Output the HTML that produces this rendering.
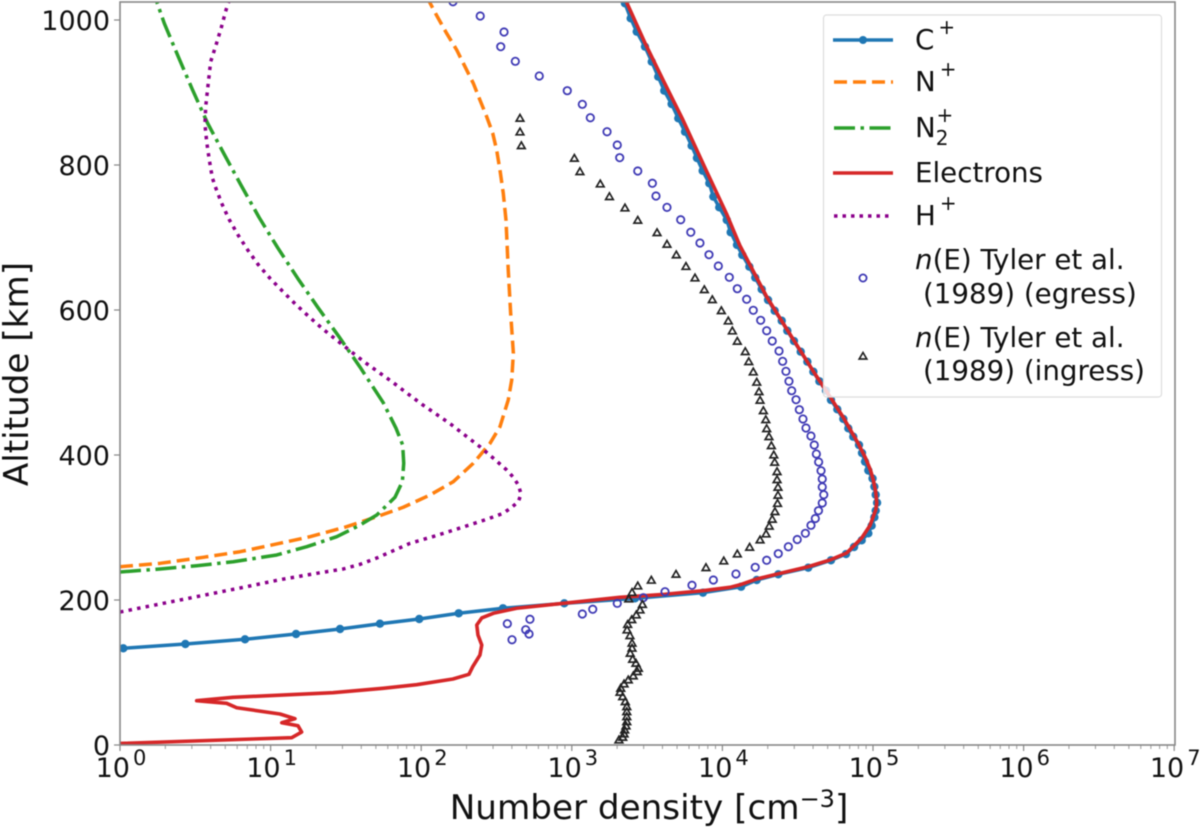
<!DOCTYPE html>
<html>
<head>
<meta charset="utf-8">
<title>Number density vs altitude</title>
<style>
html,body{margin:0;padding:0;background:#fff;width:1200px;height:828px;overflow:hidden}
svg{display:block;filter:blur(0.45px)}
text{font-family:"DejaVu Sans","Liberation Sans",sans-serif;fill:#111}
</style>
</head>
<body>
<svg id="chart" xmlns="http://www.w3.org/2000/svg" width="1200" height="828" viewBox="0 0 1200 828">
  <defs><clipPath id="plot-clip"><rect x="120" y="2" width="1055" height="743"/></clipPath></defs>
  <g id="ticks"></g>
  <g id="series" clip-path="url(#plot-clip)"></g>
  <rect x="120" y="2" width="1055" height="743" fill="none" stroke="#888" stroke-width="1.6"/>
  <text transform="translate(28,374) rotate(-90)" text-anchor="middle" font-size="34.2">Altitude [km]</text>
  <text x="649" y="819" text-anchor="middle" font-size="34.2">Number density [cm<tspan dy="-12" font-size="24">−3</tspan><tspan dy="12">]</tspan></text>
  <g id="legend">
    <rect x="823.5" y="15" width="338" height="382" rx="3" fill="#fff" fill-opacity="0.8" stroke="#ddd" stroke-width="1.2"/>
    <g>
      <line x1="833" x2="893" y1="40" y2="40" stroke="#1f77b4" stroke-width="3.5"/>
      <circle cx="863" cy="40" r="4" fill="#1f77b4"/>
      <text x="915" y="49" font-size="27.7">C<tspan dx="4" dy="-15" font-size="20">+</tspan></text>
    </g>
    <g>
      <line x1="834" x2="893" y1="82" y2="82" stroke="#ff7f0e" stroke-width="3.5" stroke-dasharray="13,6"/>
      <text x="915" y="91" font-size="27.7">N<tspan dx="4" dy="-15" font-size="20">+</tspan></text>
    </g>
    <g>
      <line x1="834" x2="893" y1="128" y2="128" stroke="#2ca02c" stroke-width="3.5" stroke-dasharray="21,5.5,3.5,5.5"/>
      <text x="915" y="137" font-size="27.7">N<tspan dx="0" dy="8" font-size="20">2</tspan><tspan dx="-12" dy="-23" font-size="20">+</tspan></text>
    </g>
    <g>
      <line x1="833" x2="893" y1="173" y2="173" stroke="#d62728" stroke-width="3.5"/>
      <text x="915" y="182" font-size="27.7">Electrons</text>
    </g>
    <g>
      <line x1="834" x2="893" y1="216" y2="216" stroke="#8b008b" stroke-width="3.5" stroke-dasharray="3.5,5"/>
      <text x="915" y="225" font-size="27.7">H<tspan dx="4" dy="-15" font-size="20">+</tspan></text>
    </g>
    <g>
      <circle cx="863" cy="278" r="3.6" fill="none" stroke="#3f3ab5" stroke-width="1.8"/>
      <text x="915" y="269" font-size="27.7"><tspan font-style="italic">n</tspan>(E) Tyler et al.</text>
      <text x="923" y="303" font-size="27.7">(1989) (egress)</text>
    </g>
    <g>
      <path d="M863,352.5 L866.8,359 L859.2,359 Z" fill="none" stroke="#222" stroke-width="1.7"/>
      <text x="915" y="347" font-size="27.7"><tspan font-style="italic">n</tspan>(E) Tyler et al.</text>
      <text x="923" y="380" font-size="27.7">(1989) (ingress)</text>
    </g>
  </g>
</svg>
<script>
// Tick values
const xDecades = [0,1,2,3,4,5,6,7];
const yTicks = [0,200,400,600,800,1000];

// All densities are log10(n / cm^-3); altitudes in km.
const cPlusLog = [0.022,0.434,0.830,1.169,1.461,1.726,1.987,2.249,2.543,2.950,3.420,3.871,4.124,4.228,4.371,4.570,4.721,4.821,4.874,4.925,4.969,4.991,5.009,5.018,5.027,5.018,5.009,4.997,4.969,4.947,4.927,4.907,4.869,4.836,4.803,4.763,4.721,4.688,4.644,4.604,4.564,4.520,4.475,4.431,4.394,4.347,4.303,4.261,4.218,4.179,4.132,4.097,4.055,4.029,3.979,3.940,3.913,3.869,3.831,3.796,3.752,3.707,3.663,3.614,3.574,3.531,3.486,3.431,3.391,3.353,3.335];
const cPlusAlt = [133.4,139.3,145.8,153.1,160.0,167.3,173.8,181.7,188.6,195.4,202.3,210.1,218.3,227.6,235.4,244.6,254.8,263.4,273.1,282.3,292.0,302.5,314.1,323.2,334.2,345.2,356.3,367.6,378.6,390.8,402.8,413.8,425.2,436.8,449.7,463.0,475.9,488.7,501.7,514.9,528.7,542.5,557.2,571.4,585.2,599.0,613.8,628.6,644.6,659.7,675.9,689.7,707.2,724.1,741.6,756.3,774.8,792.1,809.6,826.6,845.9,864.4,884.1,902.5,921.8,942.5,963.2,983.9,1002.3,1023.0,1030];

const nPlusLog = [0,0.266,0.553,0.797,1.029,1.262,1.505,1.705,1.881,2.058,2.213,2.346,2.457,2.523,2.578,2.601,2.612,2.594,2.578,2.563,2.545,2.523,2.501,2.475,2.435,2.390,2.346,2.291,2.236,2.169,2.107,2.054];
const nPlusAlt = [245.9,250.6,258.9,266.6,276.8,287.3,301.1,314.9,327.9,344.8,363.2,388.6,416.1,439.0,475.9,503.4,540.3,595.4,655.2,724.1,761.0,793.1,820.7,843.7,866.6,889.7,912.7,935.6,958.6,981.6,1004.6,1025.2];

const n2PlusLog = [0,0.266,0.509,0.752,1.041,1.240,1.439,1.594,1.705,1.826,1.875,1.884,1.877,1.833,1.748,1.722,1.592,1.454,1.315,1.180,1.047,0.923,0.803,0.691,0.580,0.480,0.387,0.294,0.244];
const n2PlusAlt = [238.6,242.8,247.3,252.8,262.1,273.5,287.3,303.4,317.2,341.7,363.2,388.6,413.8,436.8,472.1,480.4,521.8,563.2,603.2,643.7,685.9,727.9,772.4,815.2,858.3,904.4,949.4,995.4,1025.2];

const electronLog = [0,1.140,1.206,1.182,1.074,1.162,1.062,0.775,0.708,0.509,0.750,1.414,1.746,1.970,2.211,2.317,2.342,2.390,2.402,2.377,2.369,2.402,2.479,2.634,2.944,3.320,3.619,3.873,4.050,4.117,4.228,4.382,4.568,4.714,4.825,4.925,4.980,5.018,5.025,5.018,5.002,4.983,4.950,4.900,4.801,4.693,4.602,4.515,4.402,4.294,4.114,4.031,3.891,3.738,3.606,3.486,3.363,3.347];
const electronAlt = [2.1,10.1,17.9,26.6,30.8,36.3,42.8,51.4,57.5,61.1,65.8,72.1,78.2,83.2,91.0,97.5,108.0,124.1,137.9,151.7,165.5,175.2,181.7,188.6,195.4,203.7,207.9,212.8,217.5,221.0,229.0,236.8,245.9,255.2,264.8,285.5,302.8,324.1,333.8,349.0,365.5,379.3,395.9,416.6,452.4,487.3,515.9,544.8,582.1,618.3,689.7,731.0,793.1,862.1,917.2,968.3,1024.8,1031];

const hPlusLog = [0,0.133,0.365,0.598,0.830,1.062,1.306,1.483,1.594,1.705,1.815,1.926,2.092,2.264,2.435,2.545,2.601,2.645,2.663,2.645,2.612,2.568,2.483,2.390,2.295,2.203,2.103,2.005,1.910,1.815,1.718,1.620,1.527,1.432,1.341,1.250,1.164,1.080,0.996,0.918,0.848,0.784,0.724,0.675,0.631,0.613,0.593,0.576,0.564,0.569,0.582,0.602,0.639,0.673,0.704,0.722];
const hPlusAlt = [183.4,189.0,198.6,208.3,217.9,228.0,236.8,242.8,249.2,257.9,268.0,278.2,288.3,299.7,311.3,319.6,327.9,335.6,346.2,358.6,369.2,379.3,394.9,411.4,426.6,441.4,455.9,469.9,484.6,499.7,514.1,528.7,543.9,559.6,574.8,591.7,608.3,625.8,643.7,662.5,682.8,703.4,725.1,747.2,771.0,782.5,806.9,831.3,856.1,880.4,905.2,942.5,966.5,989.9,1013.8,1025.2];

const egressLog = [2.211,2.392,2.550,2.528,2.625,2.784,2.970,3.070,3.123,3.234,3.302,3.318,3.438,3.535,3.559,3.632,3.723,3.790,3.851,3.911,3.973,4.046,4.099,4.161,4.205,4.254,4.294,4.331,4.376,4.400,4.422,4.442,4.460,4.489,4.511,4.535,4.555,4.588,4.610,4.624,4.639,4.655,4.663,4.663,4.673,4.663,4.638,4.617,4.588,4.551,4.497,4.438,4.371,4.294,4.218,4.090,3.940,3.798,3.619,3.475,3.302,3.139,3.070,2.722,2.572,2.694,2.716,2.603];
const egressAlt = [1025.2,1005.5,983.4,963.2,943.0,922.8,902.5,883.7,865.2,845.9,827.6,810.1,791.7,774.8,757.2,741.6,724.5,707.2,692.4,676.3,660.7,645.1,629.4,614.8,599.6,585.8,571.4,557.2,543.4,529.2,515.4,501.7,488.7,476.3,462.5,449.7,437.2,426.2,413.8,401.4,390.3,378.3,366.9,355.9,345.2,333.8,323.2,312.4,303.0,292.0,283.4,273.5,263.9,254.8,245.1,235.9,227.6,220.3,211.4,203.2,195.4,187.2,180.7,173.4,167.3,159.0,153.1,145.2];

const ingressLog = [2.656,2.656,2.665,3.017,3.054,3.189,3.250,3.353,3.438,3.566,3.632,3.694,3.758,3.818,3.880,3.933,3.993,4.039,4.066,4.099,4.152,4.175,4.205,4.228,4.243,4.250,4.272,4.288,4.294,4.309,4.325,4.341,4.347,4.363,4.363,4.369,4.369,4.366,4.349,4.331,4.311,4.290,4.250,4.181,4.099,4.009,3.891,3.692,3.528,3.438,3.400,3.378,3.469,3.453,3.428,3.398,3.371,3.367,3.386,3.400,3.400,3.388,3.404,3.426,3.442,3.435,3.408,3.375,3.347,3.325,3.320,3.338,3.355,3.365,3.365,3.365,3.365,3.360,3.351,3.347,3.338,3.313];
const ingressAlt = [864.4,845.5,826.6,809.2,790.8,773.8,756.3,740.7,723.7,706.6,690.6,675.9,660.0,644.1,628.0,614.2,599.0,584.8,571.0,556.8,542.5,528.7,514.5,500.3,487.3,475.4,461.1,448.7,436.3,425.2,412.8,400.0,389.9,377.0,365.9,355.4,344.4,333.1,321.8,311.3,301.8,291.0,282.8,272.7,263.4,253.8,244.6,235.4,227.2,219.3,210.3,201.4,193.8,186.2,179.3,172.8,166.2,158.6,150.8,140.3,133.4,126.5,118.2,112.7,105.8,101.1,95.2,89.7,84.1,78.2,72.7,66.6,59.7,52.8,45.9,39.0,32.1,26.2,20.7,15.2,10.6,6.9];

const SVGNS = 'http://www.w3.org/2000/svg';
const xScale = function (logN) { return 120 + 150.6 * logN; };
const yScale = function (alt) { return 745 - 0.725 * alt; };

function make(tag, attrs, parent) {
  const el = document.createElementNS(SVGNS, tag);
  Object.keys(attrs).forEach(function (k) { el.setAttribute(k, attrs[k]); });
  parent.appendChild(el);
  return el;
}

const tickGroup = document.getElementById('ticks');
const seriesGroup = document.getElementById('series');

xDecades.forEach(function (d) {
  const px = xScale(d);
  const tick = make('line', {x1: px, x2: px, y1: 745, y2: 751, stroke: '#888', 'stroke-width': 1.2}, tickGroup);
  
  
  const label = make('text', {x: px + 1, y: 777, 'text-anchor': 'middle', 'font-size': 27}, tickGroup);
  
  
  label.textContent = '10';
  const sup = make('tspan', {dy: -12, 'font-size': 21, dx: 3}, label);
  sup.textContent = String(d);
  if (d < 7) {
    [2,3,4,5,6,7,8,9].forEach(function (m) {
      const mpx = xScale(d + Math.log10(m));
      const minor = make('line', {x1: mpx, x2: mpx, y1: 745, y2: 749, stroke: '#999', 'stroke-width': 1}, tickGroup);
      
      
    });
  }
});

yTicks.forEach(function (a) {
  const py = yScale(a);
  const tick = make('line', {x1: 114, x2: 120, y1: py, y2: py, stroke: '#888', 'stroke-width': 1.2}, tickGroup);
  
  
  const label = make('text', {x: 110, y: py + 10, 'text-anchor': 'end', 'font-size': 27}, tickGroup);
  
  
  label.textContent = String(a);
});

function drawLine(logs, alts, color, width, dash, name) {
  const pts = logs.map(function (v, i) { return xScale(v).toFixed(2) + ',' + yScale(alts[i]).toFixed(2); }).join(' ');
  const attrs = {points: pts, fill: 'none', stroke: color, 'stroke-width': width, 'stroke-linejoin': 'round'};
  if (dash) attrs['stroke-dasharray'] = dash;
  const line = make('polyline', attrs, seriesGroup);
  
  
}

drawLine(cPlusLog, cPlusAlt, '#1f77b4', 3.5, null, 'c-plus-line');
cPlusLog.forEach(function (v, i) {
  const dot = make('circle', {cx: xScale(v), cy: yScale(cPlusAlt[i]), r: 4.2, fill: '#1f77b4'}, seriesGroup);
  
  
});
drawLine(nPlusLog, nPlusAlt, '#ff7f0e', 3.5, '13,6', 'n-plus-line');
drawLine(n2PlusLog, n2PlusAlt, '#2ca02c', 3.5, '21,5.5,3.5,5.5', 'n2-plus-line');
drawLine(electronLog, electronAlt, '#d62728', 3.6, null, 'electrons-line');
drawLine(hPlusLog, hPlusAlt, '#8b008b', 3.5, '3.5,5.2', 'h-plus-line');

egressLog.forEach(function (v, i) {
  const c = make('circle', {cx: xScale(v), cy: yScale(egressAlt[i]), r: 3.7, fill: 'none', stroke: '#3f3ab5', 'stroke-width': 1.8}, seriesGroup);
  
  
});
ingressLog.forEach(function (v, i) {
  const px = xScale(v), py = yScale(ingressAlt[i]);
  const t = make('path', {d: 'M' + px + ',' + (py - 3.8) + ' L' + (px + 3.8) + ',' + (py + 2.8) + ' L' + (px - 3.8) + ',' + (py + 2.8) + ' Z', fill: 'none', stroke: '#222', 'stroke-width': 1.7}, seriesGroup);
  
  
});
</script>
</body>
</html>
